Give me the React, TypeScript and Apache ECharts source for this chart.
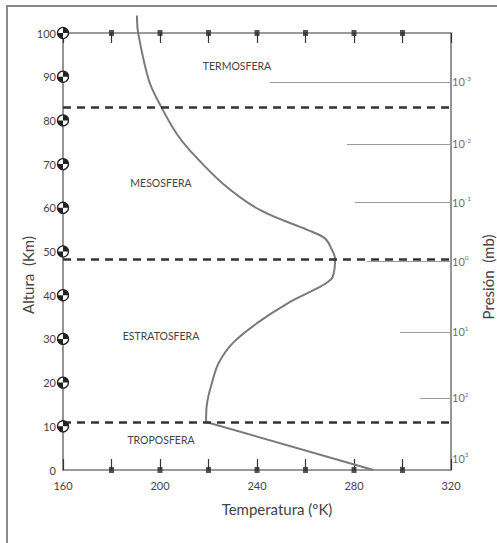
import React, { useEffect, useRef } from "react";
import * as echarts from "echarts";

// ---- data ----
const tempTicks = [180, 200, 220, 240, 260, 280, 300];
const altTicks = [10, 20, 30, 40, 50, 60, 70, 80, 90, 100];

// troposphere (straight segment)
const tropoTemp = [288, 219];
const tropoAlt = [0, 11];

// upper atmosphere profile
const upperTemp = [219, 219.4, 221.4, 224.2, 230.1, 240, 252.8, 263.5, 268.6, 271.2, 272.2, 271.0, 268.0, 261.0, 241.2, 225.6, 212.2, 206.8, 200.5, 195.5, 191.0, 190.5];
const upperAlt = [11, 15.3, 19.9, 24.5, 29.1, 33.6, 38.2, 41.2, 42.8, 44.2, 48.3, 50.3, 53.0, 54.9, 59.5, 65.7, 73.2, 77.0, 83.1, 89.0, 100, 104];

const boundaryAlt = [83.1, 48.3, 11];

const pressureExp = ["-3", "-2", "-1", "0", "1", "2", "3"];
const pressureAlt = [88.8, 74.6, 61.3, 47.8, 31.6, 16.5, 2.7];
const pressureLineStart = [245.4, 277.1, 280.4, 285.4, 299, 307.2, null];

const regionNames = ["TERMOSFERA", "MESOSFERA", "ESTRATOSFERA", "TROPOSFERA"];

const FONT = "Lato, 'Noto Sans', sans-serif";
const TXT = "#444";
const AX = "#7a7a7a";

export default function App() {
  const ref = useRef<HTMLDivElement>(null);
  useEffect(() => {
    if (!ref.current) return;
    const chart = echarts.init(ref.current, undefined, { renderer: "svg" });

    const regionPos = [
      [237, 66],
      [161, 183],
      [161, 336],
      [161, 440],
    ];

    const option: any = {
      animation: false,
      backgroundColor: "#fff",
      textStyle: { fontFamily: FONT },
      grid: { left: 63, right: 46, top: 33, bottom: 73 },
      xAxis: [
        {
          type: "value",
          position: "bottom",
          min: 160,
          max: 320,
          interval: 20,
          splitLine: { show: false },
          axisLine: { show: true, onZero: false, lineStyle: { color: AX, width: 1.6 } },
          axisTick: { show: true, inside: true, length: 11, lineStyle: { color: "#333", width: 1.2 } },
          axisLabel: {
            color: TXT,
            fontSize: 11,
            margin: 10,
            fontFamily: FONT,
            formatter: (v: number) => (v % 40 === 0 ? String(v) : ""),
          },
        },
        {
          type: "value",
          position: "top",
          min: 160,
          max: 320,
          interval: 20,
          splitLine: { show: false },
          axisLine: { show: true, onZero: false, lineStyle: { color: AX, width: 1.6 } },
          axisTick: { show: true, inside: true, length: 10, lineStyle: { color: "#333", width: 1.2 } },
          axisLabel: { show: false },
        },
      ],
      yAxis: [
        {
          type: "value",
          position: "left",
          min: 0,
          max: 100,
          interval: 10,
          splitLine: { show: false },
          axisLine: { show: true, onZero: false, lineStyle: { color: AX, width: 1.6 } },
          axisTick: { show: false },
          axisLabel: { color: TXT, fontSize: 11, margin: 7, fontFamily: FONT },
        },
        {
          type: "value",
          position: "right",
          min: 0,
          max: 100,
          interval: 10,
          splitLine: { show: false },
          axisLine: { show: true, onZero: false, lineStyle: { color: AX, width: 1.6 } },
          axisTick: { show: false },
          axisLabel: { show: false },
        },
      ],
      series: [
        {
          type: "lines",
          coordinateSystem: "cartesian2d",
          silent: true,
          lineStyle: { color: "#9a9a9a", width: 1.2, opacity: 1 },
          data: pressureLineStart
            .map((t, i) => (t == null ? null : { coords: [[t, pressureAlt[i]], [320, pressureAlt[i]]] }))
            .filter((d) => d),
          z: 2,
        },
        {
          type: "scatter",
          symbolSize: 0,
          silent: true,
          clip: false,
          data: pressureAlt.map((h) => [320, h]),
          label: {
            show: true,
            position: "right",
            distance: 1,
            formatter: (p: any) => `{a|10}{b|${pressureExp[p.dataIndex]}}`,
            rich: {
              a: { fontSize: 11, color: TXT, fontFamily: FONT, lineHeight: 14 },
              b: { fontSize: 6.5, color: TXT, fontFamily: FONT, verticalAlign: "top", lineHeight: 14, padding: [0, 0, 6, 0] },
            },
          },
          z: 3,
        },
        {
          type: "line",
          data: tropoTemp.map((t, i) => [t, tropoAlt[i]]),
          showSymbol: false,
          symbol: "none",
          clip: false,
          lineStyle: { color: "#7a7a7a", width: 2 },
          z: 4,
        },
        {
          type: "line",
          data: upperTemp.map((t, i) => [t, upperAlt[i]]),
          showSymbol: false,
          symbol: "none",
          smooth: 0.35,
          clip: false,
          lineStyle: { color: "#7a7a7a", width: 2 },
          z: 4,
          markLine: {
            silent: true,
            symbol: "none",
            label: { show: false },
            lineStyle: { color: "#333", width: 2.5, type: [8, 6] },
            data: boundaryAlt.map((h) => ({ yAxis: h })),
          },
        },
        {
          type: "scatter",
          symbol: "rect",
          symbolSize: [5, 6],
          clip: false,
          silent: true,
          itemStyle: { color: "#2a2a2a" },
          data: tempTicks.flatMap((t) => [[t, 0], [t, 100]]),
          z: 5,
        },
        {
          type: "custom",
          clip: false,
          silent: true,
          data: altTicks.map((h) => [160, h]),
          renderItem: (params: any, api: any) => {
            const p = api.coord([api.value(0), api.value(1)]);
            const r = 5.5;
            return {
              type: "group",
              children: [
                { type: "circle", shape: { cx: p[0], cy: p[1], r }, style: { fill: "#fff", stroke: "#222", lineWidth: 1.3 } },
                { type: "sector", shape: { cx: p[0], cy: p[1], r0: 0, r, startAngle: -Math.PI / 2, endAngle: 0, clockwise: true }, style: { fill: "#222" } },
                { type: "sector", shape: { cx: p[0], cy: p[1], r0: 0, r, startAngle: Math.PI / 2, endAngle: Math.PI, clockwise: true }, style: { fill: "#222" } },
              ],
            };
          },
          z: 6,
        },
      ],
      graphic: [
        {
          type: "rect",
          shape: { x: 7, y: 6, width: 520, height: 560 },
          style: { fill: "none", stroke: "#8a8a8a", lineWidth: 2 },
          z: -1,
        },
        {
          type: "text",
          x: 28,
          y: 275,
          rotation: Math.PI / 2,
          style: { text: "Altura  (Km)", fill: TXT, font: `15px ${FONT}`, textAlign: "center", textVerticalAlign: "middle" },
        },
        {
          type: "text",
          x: 488,
          y: 277,
          rotation: Math.PI / 2,
          style: { text: "Presión  (mb)", fill: TXT, font: `15px ${FONT}`, textAlign: "center", textVerticalAlign: "middle" },
        },
        {
          type: "text",
          x: 277,
          y: 509,
          style: { text: "Temperatura (ºK)", fill: TXT, font: `15px ${FONT}`, textAlign: "center", textVerticalAlign: "middle" },
        },
        ...regionNames.map((n, i) => ({
          type: "text",
          x: regionPos[i][0],
          y: regionPos[i][1],
          style: { text: n, fill: TXT, font: `10.5px ${FONT}`, textAlign: "center", textVerticalAlign: "middle" },
        })),
      ],
    };
    chart.setOption(option);
    return () => chart.dispose();
  }, []);
  return <div ref={ref} style={{ position: "fixed", left: 0, top: 0, width: 497, height: 543 }} />;
}
